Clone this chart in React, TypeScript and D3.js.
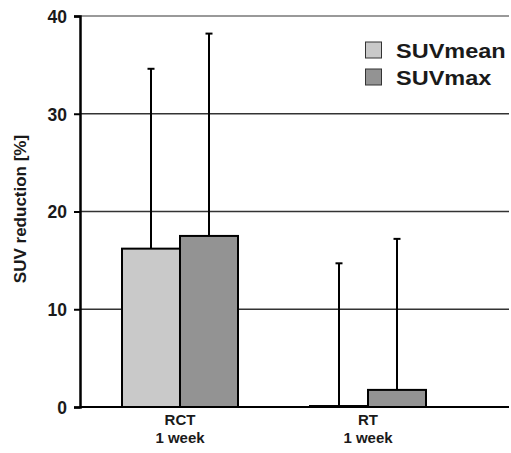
import { useEffect, useRef } from 'react';
import * as d3 from 'd3';

const categories = ['RCT\n1 week', 'RT\n1 week'];
const seriesNames = ['SUVmean', 'SUVmax'];
const suvMean = [16.2, 0.1];
const suvMax = [17.5, 1.75];
const suvMeanErr = [34.6, 14.7];
const suvMaxErr = [38.2, 17.2];
const yTicks = [0, 10, 20, 30, 40];

const colors = ['#c9c9c9', '#939393'];
const FONT = '"Liberation Sans", Arial, sans-serif';

const App = () => {
  const svgRef = useRef<SVGSVGElement>(null);
  const width = 511;
  const height = 453;

  useEffect(() => {
    const svg = d3.select(svgRef.current);
    svg.selectAll('*').remove();

    const axisX = 80;
    const plotRight = 509;

    const y = d3.scaleLinear().domain([0, 40]).range([407, 16]);

    const x0 = d3
      .scaleBand()
      .domain(categories)
      .range([86, 462])
      .paddingInner(0.383)
      .paddingOuter(0.1915);

    const x1 = d3
      .scaleBand()
      .domain(seriesNames)
      .range([0, x0.bandwidth()]);

    const values = [suvMean, suvMax];
    const errs = [suvMeanErr, suvMaxErr];

    // gridlines
    svg.append('g')
      .selectAll('line')
      .data(yTicks.filter(t => t > 0))
      .enter()
      .append('line')
      .attr('x1', axisX)
      .attr('x2', plotRight)
      .attr('y1', d => y(d))
      .attr('y2', d => y(d))
      .attr('stroke', d => (d === 40 ? '#777' : '#333'))
      .attr('stroke-width', 1.5);

    // bars
    categories.forEach((cat, ci) => {
      seriesNames.forEach((s, si) => {
        const bx = x0(cat)! + x1(s)!;
        const v = values[si][ci];
        svg.append('rect')
          .attr('x', bx)
          .attr('y', y(v))
          .attr('width', x1.bandwidth())
          .attr('height', y(0) - y(v))
          .attr('fill', colors[si])
          .attr('stroke', '#000')
          .attr('stroke-width', 2);
      });
    });

    // error bars (upper only)
    categories.forEach((cat, ci) => {
      seriesNames.forEach((s, si) => {
        const cx = x0(cat)! + x1(s)! + x1.bandwidth() / 2;
        const v = values[si][ci];
        const top = errs[si][ci];
        svg.append('line')
          .attr('x1', cx)
          .attr('x2', cx)
          .attr('y1', y(v))
          .attr('y2', y(top))
          .attr('stroke', '#000')
          .attr('stroke-width', 2);
        svg.append('line')
          .attr('x1', cx - 3.5)
          .attr('x2', cx + 3.5)
          .attr('y1', y(top))
          .attr('y2', y(top))
          .attr('stroke', '#000')
          .attr('stroke-width', 2);
      });
    });

    // baseline
    svg.append('line')
      .attr('x1', axisX)
      .attr('x2', plotRight)
      .attr('y1', y(0))
      .attr('y2', y(0))
      .attr('stroke', '#000')
      .attr('stroke-width', 2);

    // y axis
    const yAxis = svg.append('g')
      .attr('transform', `translate(${axisX},0)`)
      .call(d3.axisLeft(y).tickValues(yTicks).tickSize(6).tickPadding(7).tickFormat(d3.format('d')));
    yAxis.select('.domain').attr('stroke', '#000').attr('stroke-width', 2.5);
    yAxis.selectAll('.tick line').attr('stroke', '#000').attr('stroke-width', 2);
    yAxis.selectAll('.tick text')
      .attr('font-family', FONT)
      .attr('font-weight', 'bold')
      .attr('font-size', 17.5)
      .attr('fill', '#1a1a1a')
      .attr('dy', '0.36em');

    // y label
    svg.append('text')
      .attr('transform', 'translate(26,209) rotate(-90)')
      .attr('text-anchor', 'middle')
      .attr('font-family', FONT)
      .attr('font-weight', 'bold')
      .attr('font-size', 17)
      .attr('fill', '#1a1a1a')
      .text('SUV reduction [%]');

    // x labels
    categories.forEach(cat => {
      const cx = x0(cat)! + x0.bandwidth() / 2;
      cat.split('\n').forEach((line, li) => {
        svg.append('text')
          .attr('x', cx)
          .attr('y', 425 + li * 18)
          .attr('text-anchor', 'middle')
          .attr('font-family', FONT)
          .attr('font-weight', 'bold')
          .attr('font-size', 15)
          .attr('fill', '#1a1a1a')
          .text(line);
      });
    });

    // legend
    seriesNames.forEach((s, i) => {
      const ly = 42 + i * 27;
      svg.append('rect')
        .attr('x', 365.5)
        .attr('y', ly)
        .attr('width', 16)
        .attr('height', 16)
        .attr('fill', colors[i])
        .attr('stroke', '#333')
        .attr('stroke-width', 1);
      svg.append('text')
        .attr('transform', `translate(396,${ly + 16}) scale(1.12,1)`)
        .attr('font-family', FONT)
        .attr('font-weight', 'bold')
        .attr('font-size', 21)
        .attr('fill', '#1a1a1a')
        .text(s);
    });
  }, []);

  return (
    <svg
      ref={svgRef}
      width={width}
      height={height}
      style={{ position: 'absolute', left: 0, top: 0, background: '#fff' }}
    />
  );
};

export default App;
